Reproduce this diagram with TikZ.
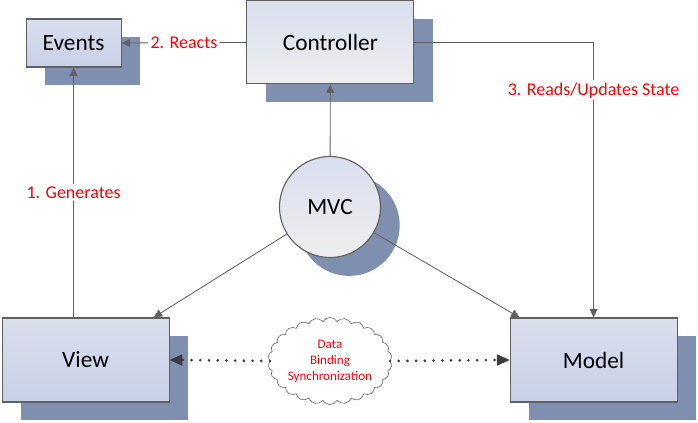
\documentclass[tikz,border=0pt]{standalone}
\usepackage{fontspec}
\setmainfont{Carlito}
\definecolor{mvcshadow}{RGB}{127,143,176}
\definecolor{mvcline}{RGB}{96,96,96}
\definecolor{mvctop}{RGB}{218,223,238}
\definecolor{mvcbot}{RGB}{200,208,231}
\definecolor{mvcpale}{RGB}{238,238,238}
\definecolor{mvcred}{RGB}{255,0,0}
\definecolor{mvcdot}{RGB}{60,60,60}
\usetikzlibrary{arrows.meta,positioning,shapes.symbols,shadows,calc}

\begin{document}
\begin{tikzpicture}[
    part/.style={rectangle, draw=mvcline, line width=0.8pt, align=center,
      font=\fontsize{16.6}{19}\selectfont, top color=mvctop, bottom color=mvcbot,
      drop shadow={shadow xshift=0.48cm, shadow yshift=-0.46cm, fill=mvcshadow, opacity=1}},
    arr/.style={-{Triangle[length=6pt,width=5.5pt]}, line width=0.6pt, mvcline},
    dotline/.style={line width=2.1pt, mvcdot, dash pattern=on 0pt off 6.2pt, line cap=round},
    dottip/.style={-{Triangle[length=9pt,width=8pt]}, mvcdot, line width=0.8pt},
    lbl/.style={fill=white, text=mvcred, inner sep=1.5pt, font=\fontsize{12.8}{15}\selectfont}
  ]
    \useasboundingbox (0,0) rectangle (17.45,-10.55);

    \node[part, minimum width=2.375cm, minimum height=1.2cm]  (events) at (1.84,-1.075) {Events};
    \node[part, minimum width=4.175cm, minimum height=2.075cm, top color=mvctop, bottom color=mvcpale]
      (ctrl) at (8.26,-1.06) {Controller};
    \node[part, circle, minimum size=2.525cm, top color=mvctop, bottom color=mvcpale]
      (mvc) at (8.25,-5.175) {MVC};
    \node[part, minimum width=4.175cm, minimum height=2.1cm]  (view)  at (2.14,-9.0)  {View};
    \node[part, minimum width=4.175cm, minimum height=2.1cm]  (model) at (14.84,-9.0) {Model};

    % data binding between view and model
    \node[cloud, cloud puffs=26, cloud puff arc=120, aspect=1.5, draw=mvcline, fill=white,
      minimum width=3cm, minimum height=2cm, inner sep=0pt, align=center, text=mvcred,
      font=\fontsize{9.3}{11.4}\selectfont] (sync) at (8.25,-9.025) {Data\\Binding\\Synchronization};

    \draw[arr] (view.north -| events.south) -- (events.south) node[midway, lbl] {1. Generates};
    \draw[arr] (ctrl.west) -- (events.east) node[midway, lbl] {2. Reacts};
    \draw[arr] (ctrl.east) -| (model.north) node[pos=0.587, lbl] {3. Reads/Updates State};
    \draw[arr] (mvc) -- (ctrl);
    \draw[arr] (mvc) -- ([xshift=-0.4cm]view.north east);
    \draw[arr] (mvc) -- ([xshift=0.25cm]model.north west);

    \draw[dotline] (sync.west) -- ($(view.east)+(0.3,0)$);
    \draw[dotline] (sync.east) -- ($(model.west)-(0.3,0)$);
    \draw[dottip] ($(view.east)+(0.32,0)$) -- (view.east);
    \draw[dottip] ($(model.west)-(0.32,0)$) -- (model.west);
  \end{tikzpicture}
\end{document}
